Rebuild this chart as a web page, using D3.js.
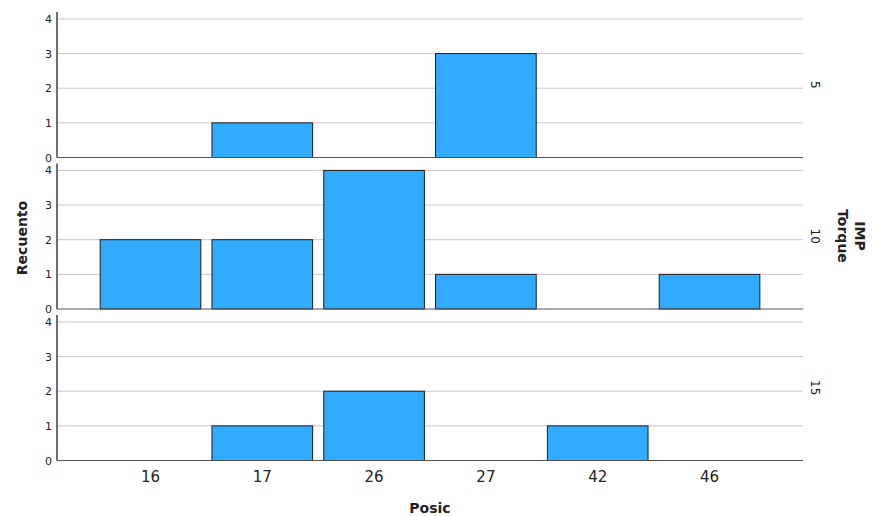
<!DOCTYPE html>
<html>
<head>
<meta charset="utf-8">
<script src="https://cdn.jsdelivr.net/npm/d3@7"></script>
<style>
  body { margin: 0; background: #fff; }
  text { font-family: "DejaVu Sans", sans-serif; fill: #222; }
</style>
</head>
<body>
<div id="chart-area"></div>
<script>
// data
var categories = ["16", "17", "26", "27", "42", "46"];
var panels = ["5", "10", "15"];
var counts5 = [0, 1, 0, 3, 0, 0];
var counts10 = [2, 2, 4, 1, 0, 1];
var counts15 = [0, 1, 2, 0, 1, 0];
var yTicks = [0, 1, 2, 3, 4];

var seriesByPanel = [counts5, counts10, counts15];

var width = 875, height = 517;
var left = 57, right = 803;
var panelTop = [12, 163.5, 315];
var panelH = 145.5;

var svg = d3.select("#chart-area").append("svg")
    .attr("width", width)
    .attr("height", height);

var x = d3.scaleBand()
    .domain(categories)
    .range([left, right])
    .paddingInner(0.1)
    .paddingOuter(0.386);

panels.forEach(function(p, i) {
    var top = panelTop[i];
    var y = d3.scaleLinear()
        .domain([0, 4.2])
        .range([top + panelH, top]);
    var g = svg.append("g").attr("class", "panel");

    // grid
    g.selectAll("line.grid").data(yTicks.slice(1)).enter().append("line")
        .attr("class", "grid")
        .attr("x1", left).attr("x2", right)
        .attr("y1", function(d) { return y(d); })
        .attr("y2", function(d) { return y(d); })
        .attr("stroke", "#c8c8c8")
        .attr("stroke-width", 1);

    // y axis
    var yAxis = d3.axisLeft(y).tickValues(yTicks).tickFormat(d3.format("d")).tickSize(0).tickPadding(5);
    var yg = g.append("g")
        .attr("transform", "translate(" + left + ",0)")
        .call(yAxis);
    yg.select(".domain").remove();
    yg.selectAll("text")
        .attr("font-size", "11px")
        .style("font-family", "DejaVu Sans, sans-serif")
        .attr("fill", "#333");

    // bars
    var rows = categories.map(function(c, j) { return { cat: c, v: seriesByPanel[i][j] }; })
        .filter(function(d) { return d.v > 0; });
    g.selectAll("rect").data(rows).enter().append("rect")
        .attr("x", function(d) { return x(d.cat); })
        .attr("y", function(d) { return y(d.v); })
        .attr("width", x.bandwidth())
        .attr("height", function(d) { return y(0) - y(d.v); })
        .attr("fill", "#31abff")
        .attr("stroke", "#1c1c1c")
        .attr("stroke-width", 1);

    // axis lines
    g.append("line")
        .attr("x1", left).attr("x2", right)
        .attr("y1", y(0)).attr("y2", y(0))
        .attr("stroke", "#555").attr("stroke-width", 1.2);
    g.append("line")
        .attr("x1", left).attr("x2", left)
        .attr("y1", top).attr("y2", y(0))
        .attr("stroke", "#111").attr("stroke-width", 1.2);

    // panel label on the right
    var cy = top + panelH / 2;
    g.append("text")
        .attr("transform", "translate(811," + cy + ") rotate(90)")
        .attr("text-anchor", "middle")
        .attr("font-size", "12px")
        .text(p);
});

// x axis labels
var xAxis = d3.axisBottom(x).tickSize(0).tickPadding(11);
var xg = svg.append("g")
    .attr("transform", "translate(0," + (panelTop[2] + panelH) + ")")
    .call(xAxis);
xg.select(".domain").remove();
xg.selectAll("text")
    .attr("font-size", "15px")
    .style("font-family", "DejaVu Sans, sans-serif")
    .attr("fill", "#222");

// axis titles
svg.append("text")
    .attr("x", (left + right) / 2)
    .attr("y", 513)
    .attr("text-anchor", "middle")
    .attr("font-size", "14px")
    .attr("font-weight", "bold")
    .text("Posic");

svg.append("text")
    .attr("transform", "translate(27,238) rotate(-90)")
    .attr("text-anchor", "middle")
    .attr("font-size", "14px")
    .attr("font-weight", "bold")
    .text("Recuento");

var facet = svg.append("text")
    .attr("transform", "translate(838,236) rotate(90)")
    .attr("text-anchor", "middle")
    .attr("font-size", "14px")
    .attr("font-weight", "bold");
facet.append("tspan").attr("x", 0).attr("dy", "-1.2em").text("IMP");
facet.append("tspan").attr("x", 0).attr("dy", "1.2em").text("Torque");
</script>
</body>
</html>
